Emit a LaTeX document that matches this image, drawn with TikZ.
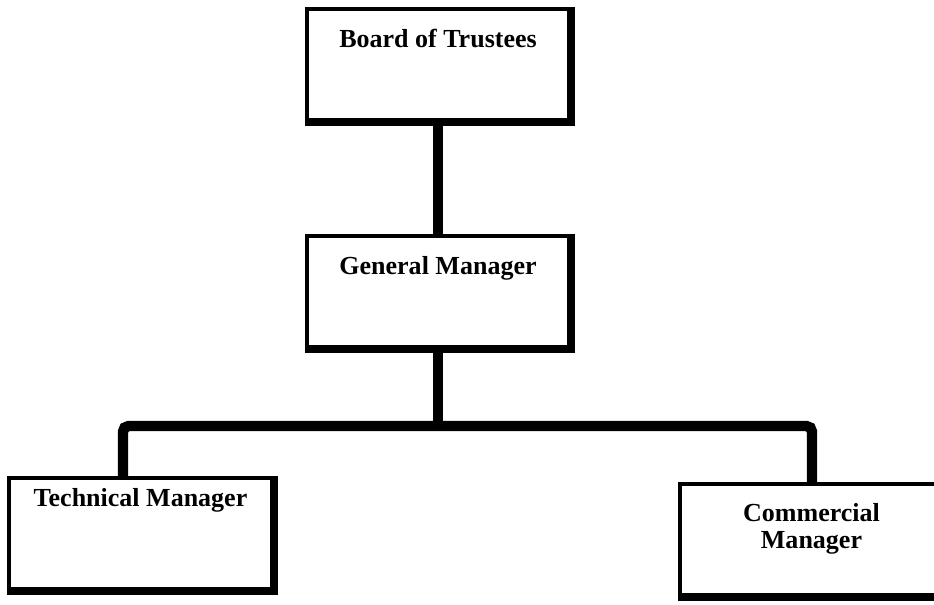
\documentclass[tikz,border=0pt]{standalone}
\usepackage{fontspec}
\setmainfont{Liberation Serif}
\usepackage{tikz}
\usetikzlibrary{positioning}

\begin{document}
\begin{tikzpicture}[
  x=0.025cm, y=-0.025cm,
  post/.style={draw, fill=white, line width=0.1cm, minimum width=6.55cm, minimum height=2.75cm,
    inner xsep=2pt, inner ysep=0pt, text height=0.94cm, text depth=1.81cm, align=center,
    font=\fontsize{18.5}{19}\selectfont\bfseries},
  rim/.style={line width=0.11cm},
  link/.style={line width=0.26cm}
]
\useasboundingbox (0,0) rectangle (934,605);

\node[post] (bot) at (438,64.5) {Board of Trustees};
\node[post] (gm) at (438,291.5) {General Manager};
\node[post, text height=0.69cm, text depth=2.06cm] (tech) at (140.5,533.5) {Technical Manager};
\node[post, text height=1.59cm, text depth=1.16cm] (com) at (811.5,539.5) {Commercial\\Manager};

% heavier bottom and right edges
\foreach \n in {bot,gm,tech,com}
  \draw[rim] ([yshift=-0.055cm]\n.south west) -| ([xshift=0.055cm]\n.north east);

\coordinate (split) at (438,426);

\draw[link] (bot.south) -- (gm.north);
\draw[link] (gm.south) -- (split);
\draw[link, rounded corners=4] (tech.north -| 123,0) |- (split) -| (com.north -| 812,0);
\end{tikzpicture}
\end{document}
